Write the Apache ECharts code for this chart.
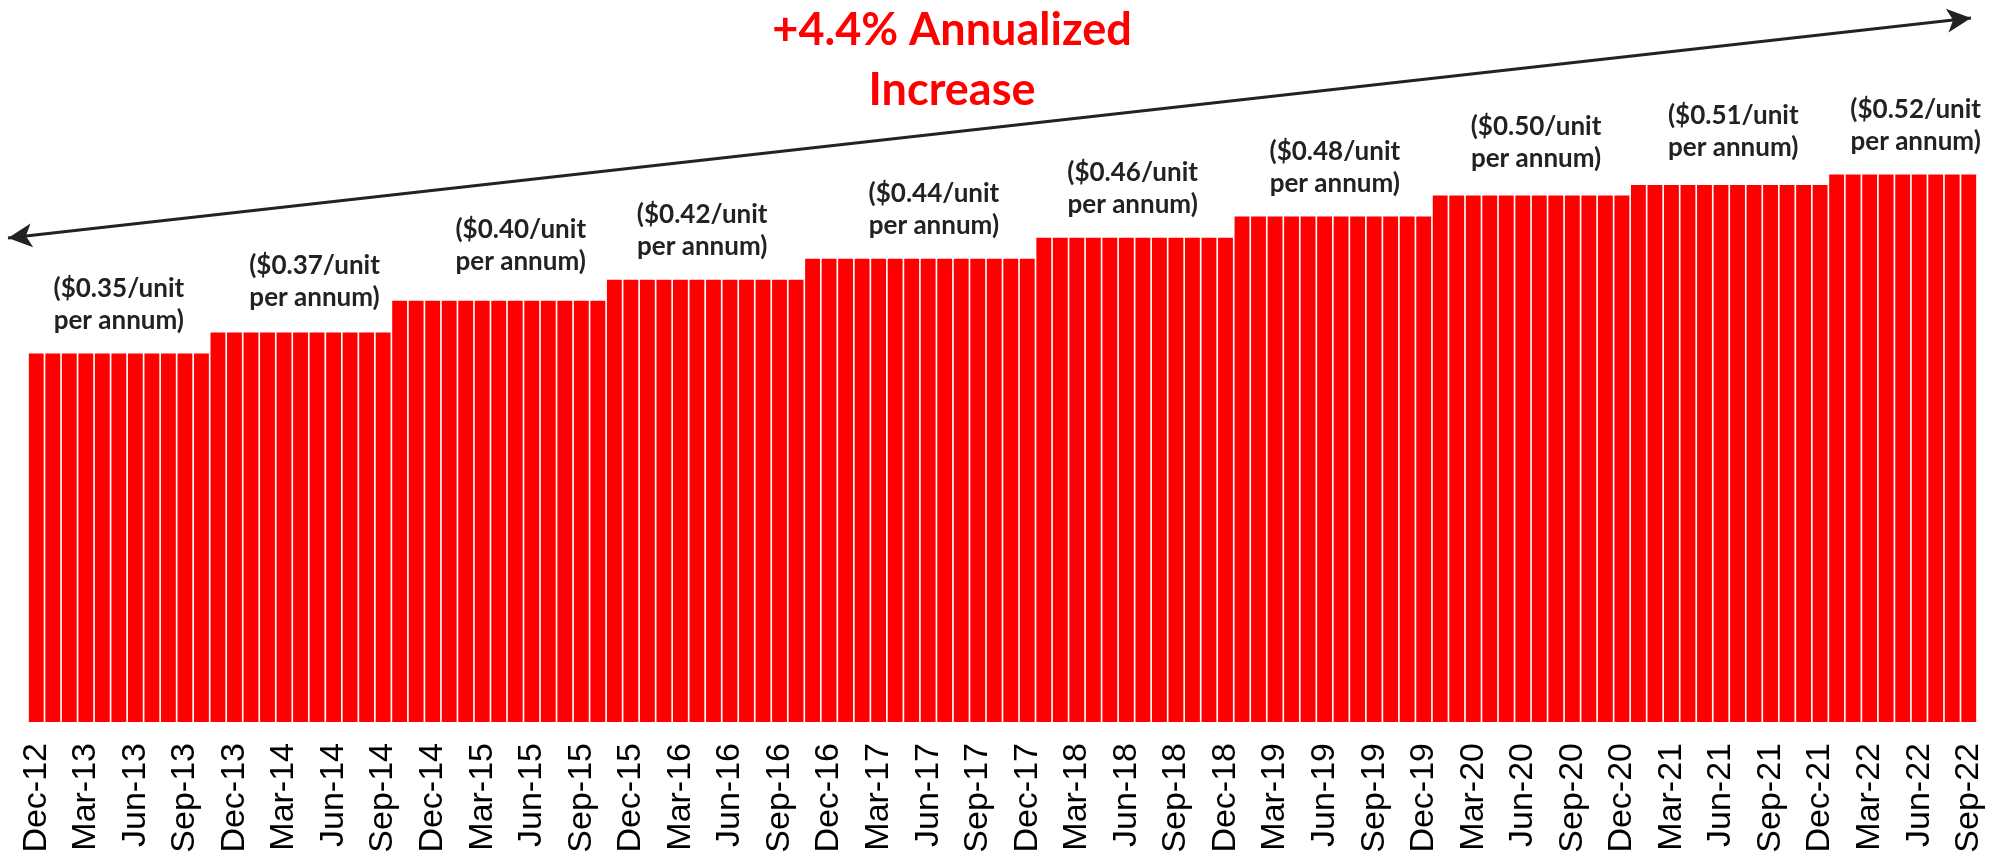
<!DOCTYPE html>
<html>
<head>
<meta charset="utf-8">
<title>Distribution per unit</title>
<script src="https://cdn.jsdelivr.net/npm/echarts@6/dist/echarts.min.js"></script>
<style>
    html,body{margin:0;padding:0;background:#fff;}
    #chart{width:2007px;height:858px;}
</style>
</head>
<body>
<div id="chart"></div>
<script>
// monthly distribution rate ($/unit per annum), Dec-12 .. Sep-22
const rates=[
    0.35,0.35,0.35,0.35,0.35,0.35,0.35,0.35,0.35,0.35,0.35,
    0.37,0.37,0.37,0.37,0.37,0.37,0.37,0.37,0.37,0.37,0.37,
    0.40,0.40,0.40,0.40,0.40,0.40,0.40,0.40,0.40,0.40,0.40,0.40,0.40,
    0.42,0.42,0.42,0.42,0.42,0.42,0.42,0.42,0.42,0.42,0.42,0.42,
    0.44,0.44,0.44,0.44,0.44,0.44,0.44,0.44,0.44,0.44,0.44,0.44,0.44,0.44,
    0.46,0.46,0.46,0.46,0.46,0.46,0.46,0.46,0.46,0.46,0.46,0.46,
    0.48,0.48,0.48,0.48,0.48,0.48,0.48,0.48,0.48,0.48,0.48,0.48,
    0.50,0.50,0.50,0.50,0.50,0.50,0.50,0.50,0.50,0.50,0.50,0.50,
    0.51,0.51,0.51,0.51,0.51,0.51,0.51,0.51,0.51,0.51,0.51,0.51,
    0.52,0.52,0.52,0.52,0.52,0.52,0.52,0.52,0.52
];
const rateNotes=['$0.35','$0.37','$0.40','$0.42','$0.44','$0.46','$0.48','$0.50','$0.51','$0.52'];
const monthNames=['Jan','Feb','Mar','Apr','May','Jun','Jul','Aug','Sep','Oct','Nov','Dec'];
const startYear=2012, startMonth=11; // Dec-12

let months=[];
for(let i=0;i<rates.length;i++){
    let m=(startMonth+i)%12;
    let y=startYear+Math.floor((startMonth+i)/12);
    months.push(monthNames[m]+'-'+String(y).slice(2));
}

// find each step of the rate and put its note over the middle of the step
let groups=[];
rates.forEach(function(v,i){
    if(i===0||v!==rates[i-1]) groups.push({start:i,end:i});
    else groups[groups.length-1].end=i;
});
const noteDx=[0,14,22,-3,14,-2,2,5,4,13];
const noteDy=[0,-2,-6,0,0,0,0,-4,-4,0];
const band=16.52;

let barData=rates.map(function(v){return {value:v};});
groups.forEach(function(g,k){
    let mid=(g.start+g.end)/2;
    let idx=Math.floor(mid);
    barData[idx].label={
        show:true,
        position:'top',
        distance:17,
        offset:[(mid-idx)*band+noteDx[k],noteDy[k]],
        formatter:'('+rateNotes[k]+'/unit\nper annum)'
    };
});

const chart=echarts.init(document.getElementById('chart'));
chart.setOption({
    animation:false,
    title:{
        text:'+4.4% Annualized\nIncrease',
        left:952,
        top:0,
        padding:0,
        textAlign:'center',
        textStyle:{
            color:'#ff0000',
            fontFamily:'Lato',
            fontWeight:'bold',
            fontSize:45,
            lineHeight:60
        }
    },
    grid:{left:28,right:30,top:6,bottom:136},
    xAxis:{
        type:'category',
        data:months,
        axisLine:{show:false},
        axisTick:{show:false},
        axisLabel:{
            interval:2,
            rotate:90,
            margin:21,
            color:'#000',
            fontFamily:'Liberation Sans',
            fontSize:34
        }
    },
    yAxis:{
        type:'value',
        min:0,
        max:0.68,
        show:false,
        splitLine:{show:false}
    },
    series:[{
        type:'bar',
        data:barData,
        barCategoryGap:'10%',
        itemStyle:{color:'#ff0000'},
        label:{
            show:false,
            color:'#222',
            fontFamily:'Lato',
            fontWeight:'bold',
            fontSize:26,
            lineHeight:32,
            align:'center'
        },
        markLine:{
            silent:true,
            symbol:['arrow','arrow'],
            symbolSize:[18,24],
            label:{show:false},
            lineStyle:{color:'#222',width:3,type:'solid'},
            data:[[{x:8,y:238},{x:1971,y:18}]]
        }
    }]
});
</script>
</body>
</html>
